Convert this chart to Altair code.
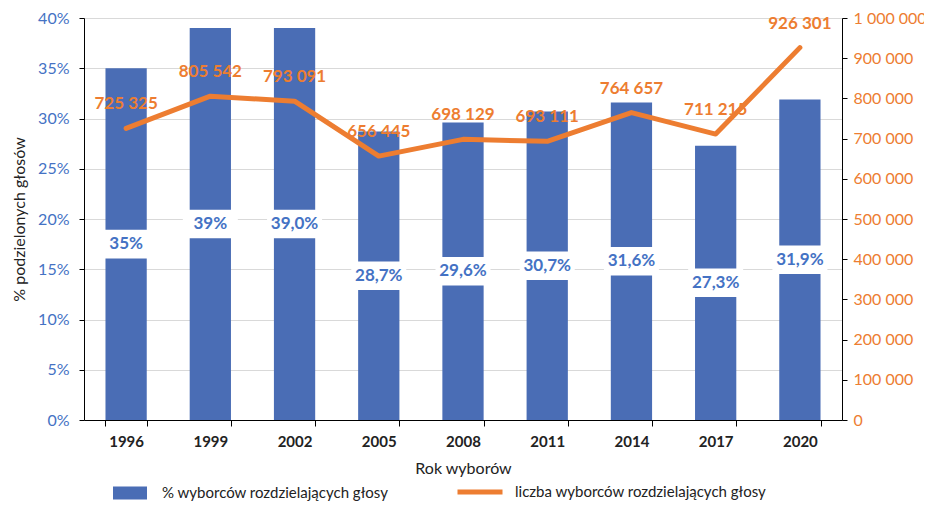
import altair as alt
import pandas as pd

years = ["1996", "1999", "2002", "2005", "2008", "2011", "2014", "2017", "2020"]
pct = [35.0, 39.0, 39.0, 28.7, 29.6, 30.7, 31.6, 27.3, 31.9]
pct_labels = ["35%", "39%", "39,0%", "28,7%", "29,6%", "30,7%", "31,6%", "27,3%", "31,9%"]
voters = [725325, 805542, 793091, 656445, 698129, 693111, 764657, 711215, 926301]

bar_name = "% wyborców rozdzielających głosy"
line_name = "liczba wyborców rozdzielających głosy"

BLUE = "#4A6DB5"
BLUE_TXT = "#4472C4"
ORANGE = "#ED7D31"
FONT = "Lato"

df = pd.DataFrame({
    "year": years,
    "pct": pct,
    "lab": pct_labels,
    "voters": voters,
    "s1": [bar_name] * len(years),
    "s2": [line_name] * len(years),
})

x = alt.X(
    "year:N", sort=years, title="Rok wyborów",
    scale=alt.Scale(paddingInner=0.51, paddingOuter=0.255),
    axis=alt.Axis(labelAngle=0, tickBand="extent", labelFontWeight="bold",
                  labelFontSize=15, labelColor="#222222", labelPadding=8,
                  titleFontSize=16, titleFontWeight="normal", titleColor="#222222",
                  titlePadding=11, domainColor="#000000", tickColor="#000000",
                  tickSize=6, labelFont=FONT, titleFont=FONT),
)

base = alt.Chart(df)

bars = base.mark_bar().encode(
    x=x,
    y=alt.Y("pct:Q", scale=alt.Scale(domain=[0, 40]),
            axis=alt.Axis(values=list(range(0, 41, 5)), labelExpr="datum.value + '%'",
                          labelColor=BLUE_TXT, labelFontSize=16, labelFont=FONT,
                          grid=True, gridColor="#D9D9D9", domainColor="#000000",
                          tickColor="#000000", tickSize=5, labelPadding=10,
                          title="% podzielonych głosów", titleFontSize=16,
                          titleFontWeight="normal", titleColor="#222222",
                          titleFont=FONT, titlePadding=10)),
    fill=alt.Fill("s1:N", scale=alt.Scale(domain=[bar_name], range=[BLUE]),
                  legend=alt.Legend(title=None, orient="none", legendX=29, legendY=458,
                                    symbolType="M-1,-0.38L1,-0.38L1,0.38L-1,0.38Z",
                                    symbolSize=1156, labelFontSize=15, labelFont=FONT,
                                    labelColor="#222222", labelLimit=400,
                                    labelOffset=15, symbolStrokeWidth=0)),
)

boxes = base.transform_calculate(half="datum.pct / 2").mark_point(
    shape="M-1,-0.52L1,-0.52L1,0.52L-1,0.52Z", size=3025, filled=True,
    fill="white", opacity=1, strokeWidth=0,
).encode(x=x, y=alt.Y("half:Q"))

bar_text = base.transform_calculate(half="datum.pct / 2").mark_text(
    fontSize=17, fontWeight="bold", color=BLUE_TXT, font=FONT, baseline="middle",
).encode(x=x, y=alt.Y("half:Q"), text="lab:N")

left = alt.layer(bars, boxes, bar_text)

y2 = alt.Y("voters:Q", scale=alt.Scale(domain=[0, 1000000]),
           axis=alt.Axis(orient="right", values=list(range(0, 1000001, 100000)),
                         format=",d", labelColor=ORANGE, labelFontSize=16,
                         labelFont=FONT, grid=False, domainColor="#000000",
                         tickColor="#000000", tickSize=5, labelPadding=6, title=None))

line_text = base.mark_text(
    dy=-24, fontSize=17, fontWeight="bold", color=ORANGE, font=FONT,
).encode(x=x, y=y2, text=alt.Text("voters:Q", format=",d"))

line = base.mark_line(strokeWidth=5, strokeCap="round", strokeJoin="round").encode(
    x=x, y=y2,
    stroke=alt.Stroke("s2:N", scale=alt.Scale(domain=[line_name], range=[ORANGE]),
                      legend=alt.Legend(title=None, orient="none", legendX=371, legendY=449,
                                        symbolType="stroke", symbolStrokeWidth=5,
                                        symbolSize=2025, labelFontSize=15,
                                        labelFont=FONT, labelColor="#222222",
                                        labelLimit=400, labelOffset=10)),
)

right = alt.layer(line_text, line)

chart = alt.layer(left, right).resolve_scale(
    y="independent", fill="independent", stroke="independent"
).properties(
    width=758, height=402,
    autosize=alt.AutoSizeParams(type="none"),
    padding={"left": 76, "top": 10, "right": 82, "bottom": 84},
).configure_view(stroke=None).configure(
    locale={"number": {"decimal": ",", "thousands": " ", "grouping": [3],
                       "currency": ["", " zł"]}},
    font=FONT,
)

chart.save("out.html", embed_options={"renderer": "svg", "actions": False})
